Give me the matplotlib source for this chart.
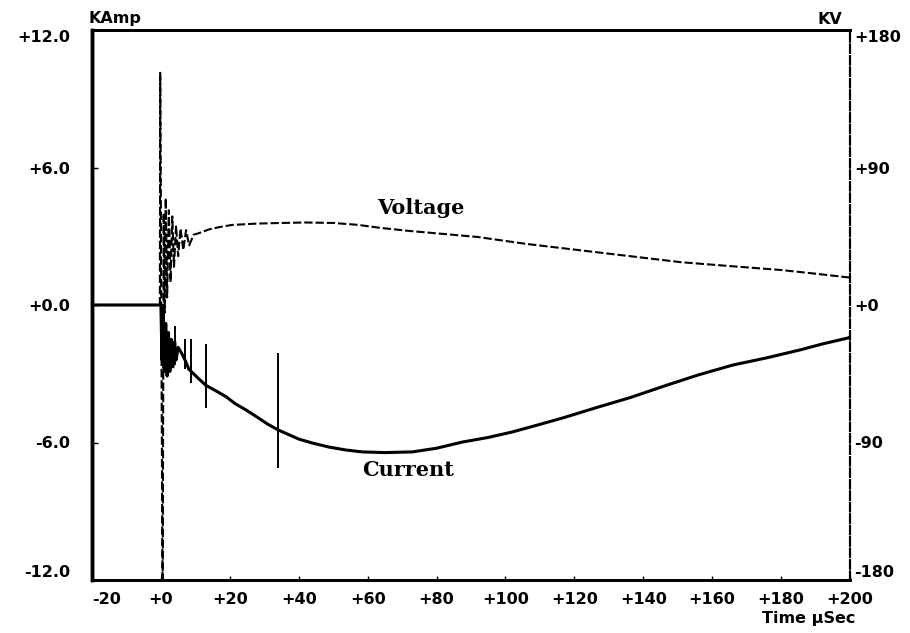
import matplotlib
matplotlib.use('Agg')
import matplotlib.pyplot as plt

# voltage trace (time in usec, KV)
volt_t = [-20, -0.3, -0.2, 0.5, 0.8, 1.1, 1.4, 1.8, 2.3, 2.8,
          3.3, 3.8, 4.4, 5.0, 5.7, 6.5, 7.3, 8.2, 9.5, 11,
          14, 17, 20.6, 28, 35, 42, 50, 57, 64, 72,
          79, 92, 106, 121, 136, 151, 165, 180, 190, 198.5, 200]
volt_kv = [0, 0, 152, -200, 60, -5, 70, 5, 62, 15,
           58, 25, 52, 32, 50, 36, 49, 39, 46, 47,
           49.5, 51, 52.4, 53.3, 53.7, 54, 53.7, 52.5, 50.4, 48.5,
           47.1, 44.5, 40, 36, 32, 28, 25.5, 22.9, 20.5, 18.3, 18]

# current trace (time in usec, KAmp)
curr_t = [-20, 0, 0.3, 0.6, 1.0, 1.4, 1.8, 2.2, 2.6, 3.0, 3.5, 4.0, 4.4, 5.0, 6.0, 7.0,
          8.1, 10.5, 13.0, 16, 18.9, 21.5, 24.7, 28, 31, 34, 37, 40, 43.9, 48.8, 53.8,
          58.4, 65, 73, 80, 87.5, 95, 102, 109, 116.6, 127, 136, 146.8, 156, 166, 176,
          185.5, 192, 199.4, 200]
curr_ka = [0, 0, -2.4, -0.3, -2.9, -0.8, -3.1, -1.2, -2.9, -1.5, -2.7, -1.6, -2.4, -1.85, -2.1, -2.4,
           -2.8, -3.15, -3.5, -3.75, -4.0, -4.3, -4.58, -4.9, -5.2, -5.45, -5.65, -5.85, -6.02, -6.2, -6.33,
           -6.41, -6.44, -6.41, -6.25, -5.98, -5.78, -5.54, -5.25, -4.93, -4.45, -4.05, -3.5, -3.05, -2.62, -2.3,
           -1.96, -1.7, -1.44, -1.4]

# noise spikes on the current trace
spike_t = [4.2, 7.1, 8.8, 13.1, 34.0]
spike_top = [-0.9, -1.5, -1.5, -1.7, -2.1]
spike_bot = [-2.6, -2.8, -3.4, -4.5, -7.1]

x_ticks = [-20, 0, 20, 40, 60, 80, 100, 120, 140, 160, 180, 200]
x_labels = ['-20', '+0', '+20', '+40', '+60', '+80', '+100', '+120', '+140', '+160', '+180', '+200']
ka_ticks = [-12, -6, 0, 6, 12]
ka_labels = ['-12.0', '-6.0', '+0.0', '+6.0', '+12.0']
kv_ticks = [-180, -90, 0, 90, 180]
kv_labels = ['-180', '-90', '+0', '+90', '+180']

lblfont = dict(family='DejaVu Sans', weight='bold', size=11.5)

fig = plt.figure(figsize=(9.1, 6.33), dpi=100)
ax = fig.add_axes([92/910, 53/633, 758/910, 550/633])
ax2 = ax.twinx()

ax.plot(curr_t, curr_ka, color='black', linewidth=2.2)
ax.vlines(spike_t, spike_bot, spike_top, color='black', linewidth=1.4)
ax2.plot(volt_t, volt_kv, color='black', linewidth=1.5, dashes=(4, 1.4))

ax.set_xlim(-20, 200)
ax.set_ylim(-12, 12)
ax2.set_ylim(-180, 180)

ax.set_xticks(x_ticks)
ax.set_xticklabels(x_labels, fontdict=lblfont)
ax.set_yticks(ka_ticks)
ax.set_yticklabels(ka_labels, fontdict=lblfont)
ax2.set_yticks(kv_ticks)
ax2.set_yticklabels(kv_labels, fontdict=lblfont)

ax.tick_params(axis='x', direction='in', length=3, width=1, pad=9)
ax.tick_params(axis='y', direction='in', length=4, width=1, pad=16)
ax2.tick_params(axis='y', direction='in', length=0, pad=3)

xl = ax.get_xticklabels()
xl[0].set_horizontalalignment('left')
yl = ax.get_yticklabels()
yl[0].set_verticalalignment('bottom')
yl[-1].set_verticalalignment('top')
yr = ax2.get_yticklabels()
yr[0].set_verticalalignment('bottom')
yr[-1].set_verticalalignment('top')

for a in (ax, ax2):
    a.spines['left'].set_linewidth(2.5)
    a.spines['top'].set_linewidth(2)
    a.spines['bottom'].set_linewidth(2)
    a.spines['right'].set_linewidth(1.5)
    a.spines['right'].set_linestyle((0, (4, 1.5)))

ax.text(62.8, 4.23, 'Voltage', fontfamily='DejaVu Serif', fontweight='bold', fontsize=15,
        ha='left', va='center')
ax.text(58.4, -7.2, 'Current', fontfamily='DejaVu Serif', fontweight='bold', fontsize=15,
        ha='left', va='center')

fig.text(88/910, 1 - 18/633, 'KAmp', ha='left', va='center', **lblfont)
fig.text(842/910, 1 - 19/633, 'KV', ha='right', va='center', **lblfont)
fig.text(855/910, 1 - 619/633, 'Time µSec', ha='right', va='center', **lblfont)

fig.savefig('out.png', dpi=100)
